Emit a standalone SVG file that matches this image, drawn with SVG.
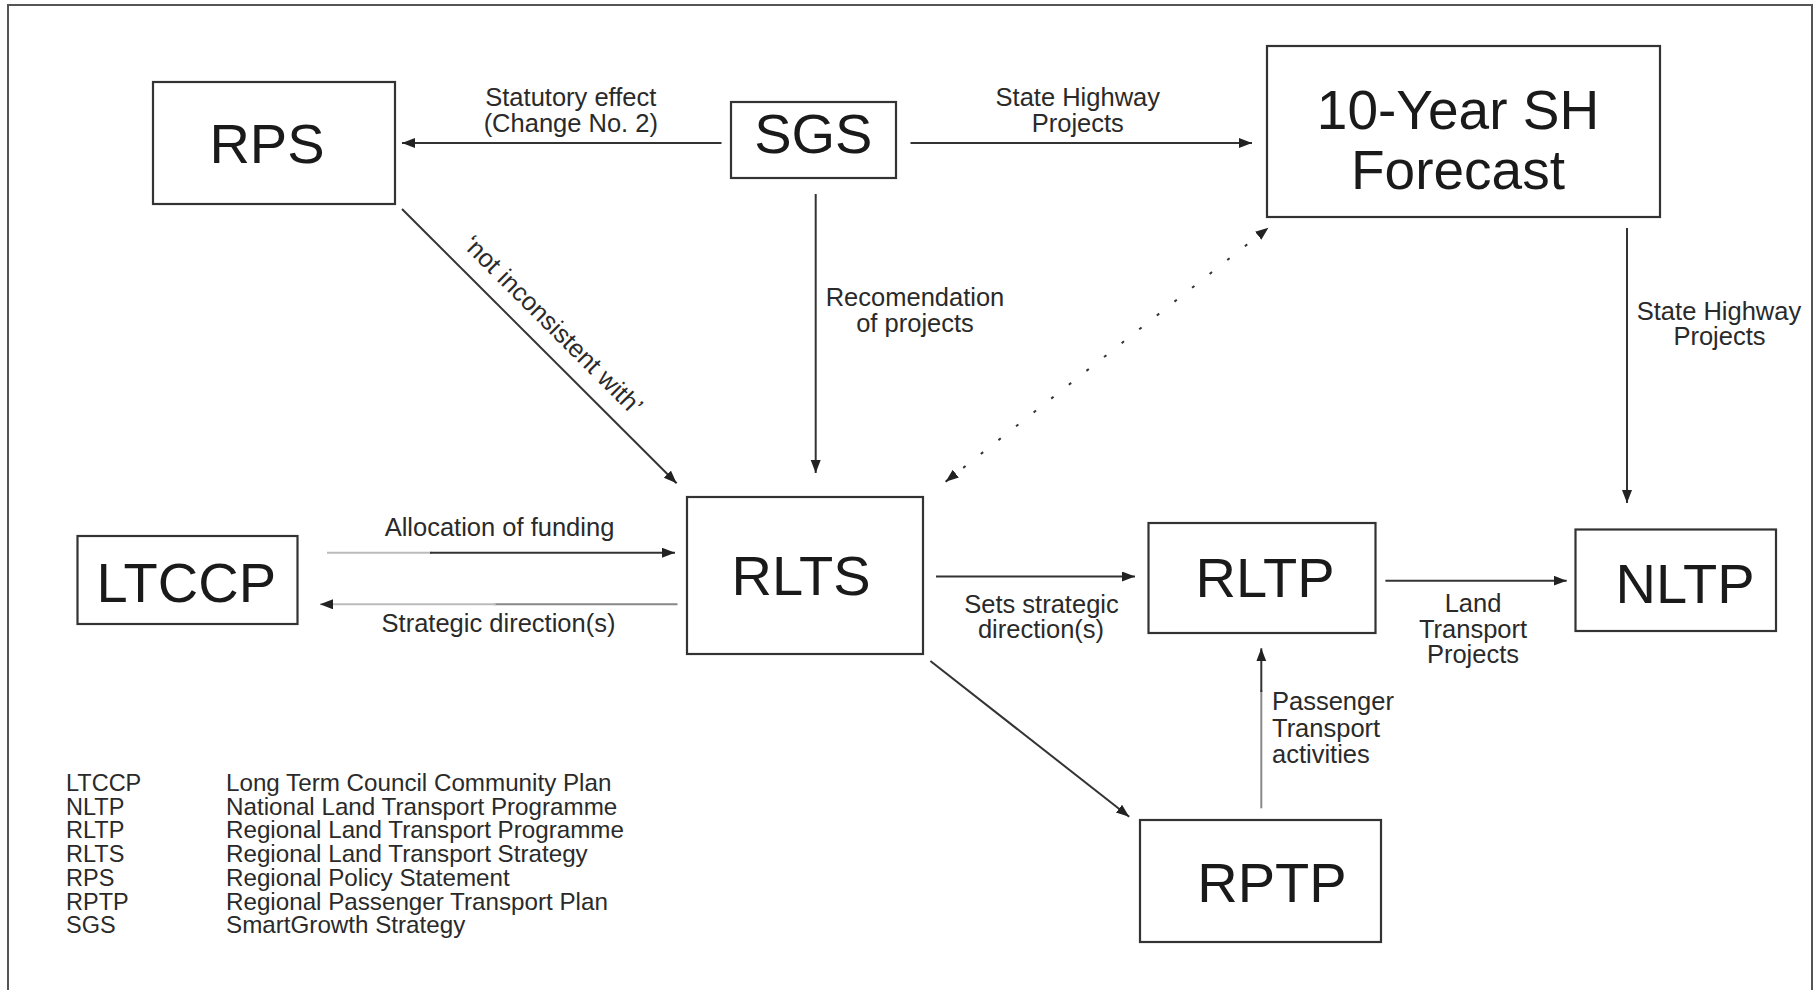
<svg xmlns="http://www.w3.org/2000/svg" width="1817" height="990" viewBox="0 0 1817 990">
<style>
.box{fill:#fff;stroke:#333;stroke-width:2.2}
.big{font-family:"Liberation Sans",Arial,sans-serif;font-size:56px;fill:#1a1a1a;text-anchor:middle}
.lbl{font-family:"Liberation Sans",Arial,sans-serif;font-size:25.5px;fill:#2a2a2a;text-anchor:middle}
.lbs{font-family:"Liberation Sans",Arial,sans-serif;font-size:25.5px;fill:#2a2a2a}
.leg{font-family:"Liberation Sans",Arial,sans-serif;font-size:23.5px;fill:#2a2a2a}
.ln{fill:none;stroke:#333;stroke-width:2}
.gr{fill:none;stroke:#888;stroke-width:2}
.lt{fill:none;stroke:#bbb;stroke-width:2}
</style>
<defs>
<marker id="ah" markerUnits="userSpaceOnUse" markerWidth="14" markerHeight="12" refX="13" refY="5" orient="auto-start-reverse">
<path d="M0,0 L13,5 L0,10 z" fill="#222"/>
</marker>
</defs>
<rect width="1817" height="990" fill="#fff"/>
<path d="M8,995 V5 H1812 V995" fill="none" stroke="#555" stroke-width="2"/>

<g id="connectors">
<line class="ln" x1="721.5" y1="143" x2="402" y2="143" marker-end="url(#ah)"/>
<line class="ln" x1="910.5" y1="143" x2="1252" y2="143" marker-end="url(#ah)"/>
<line class="ln" x1="815.7" y1="194" x2="815.7" y2="473" marker-end="url(#ah)"/>
<line class="ln" x1="402" y1="209" x2="676.6" y2="483.3" marker-end="url(#ah)"/>
<line class="ln" x1="945.6" y1="481.7" x2="1268.4" y2="227.7" stroke-dasharray="3 19.4" marker-start="url(#ah)" marker-end="url(#ah)"/>
<line class="ln" x1="1627" y1="228" x2="1627" y2="503" marker-end="url(#ah)"/>
<line class="lt" x1="327" y1="552.7" x2="432" y2="552.7"/>
<line class="ln" x1="430" y1="552.7" x2="675" y2="552.7" marker-end="url(#ah)"/>
<line class="gr" x1="677.5" y1="604.3" x2="494" y2="604.3"/>
<line class="lt" x1="496" y1="604.3" x2="320" y2="604.3" marker-end="url(#ah)"/>
<line class="ln" x1="936" y1="576.5" x2="1135" y2="576.5" marker-end="url(#ah)"/>
<line class="ln" x1="1385.4" y1="580.7" x2="1566.7" y2="580.7" marker-end="url(#ah)"/>
<line class="ln" x1="930.4" y1="661" x2="1129.2" y2="816.7" marker-end="url(#ah)"/>
<line class="gr" x1="1261.3" y1="808.3" x2="1261.3" y2="690"/>
<line class="ln" x1="1261.3" y1="692" x2="1261.3" y2="648.3" marker-end="url(#ah)"/>
</g>

<g id="labels">
<text class="lbl" x="570.8" y="106">Statutory effect</text>
<text class="lbl" x="570.8" y="131.7">(Change No. 2)</text>
<text class="lbl" x="1077.8" y="106">State Highway</text>
<text class="lbl" x="1077.8" y="131.5">Projects</text>
<text class="lbl" x="915" y="306">Recomendation</text>
<text class="lbl" x="915" y="331.7">of projects</text>
<text class="lbl" transform="translate(547,331) rotate(45)">‘not inconsistent with’</text>
<text class="lbl" x="1719" y="320">State Highway</text>
<text class="lbl" x="1719.5" y="344.5">Projects</text>
<text class="lbl" x="499.5" y="536">Allocation of funding</text>
<text class="lbl" x="498.5" y="631.7">Strategic direction(s)</text>
<text class="lbl" x="1041.5" y="613.3">Sets strategic</text>
<text class="lbl" x="1041" y="638.3">direction(s)</text>
<text class="lbl" x="1473" y="612">Land</text>
<text class="lbl" x="1473" y="637.5">Transport</text>
<text class="lbl" x="1473" y="663">Projects</text>
<text class="lbs" x="1272" y="710">Passenger</text>
<text class="lbs" x="1272" y="736.7">Transport</text>
<text class="lbs" x="1272" y="763.3">activities</text>
</g>

<g id="RPS"><rect class="box" x="153" y="82" width="242" height="122"/><text class="big" x="267" y="163">RPS</text></g>
<g id="SGS"><rect class="box" x="731" y="102" width="165" height="76"/><text class="big" x="813.3" y="153.3">SGS</text></g>
<g id="SHForecast"><rect class="box" x="1267" y="46" width="393" height="171"/><text class="big" x="1458" y="129.3" style="font-size:55px">10-Year SH</text><text class="big" x="1458" y="189.3" style="font-size:55px">Forecast</text></g>
<g id="RLTS"><rect class="box" x="687" y="497" width="236" height="157"/><text class="big" x="801" y="595">RLTS</text></g>
<g id="LTCCP"><rect class="box" x="77.5" y="536" width="220" height="88"/><text class="big" x="186.3" y="601.7">LTCCP</text></g>
<g id="RLTP"><rect class="box" x="1148.5" y="523" width="227" height="110"/><text class="big" x="1265" y="597.3">RLTP</text></g>
<g id="NLTP"><rect class="box" x="1575.5" y="529.5" width="200.5" height="101.5"/><text class="big" x="1685" y="603.3">NLTP</text></g>
<g id="RPTP"><rect class="box" x="1140" y="820" width="241" height="122"/><text class="big" x="1272" y="901.7">RPTP</text></g>

<g id="legend">
<text class="leg" x="66" y="791">LTCCP</text><text class="leg" x="226" y="791" style="font-size:24.2px">Long Term Council Community Plan</text>
<text class="leg" x="66" y="814.7">NLTP</text><text class="leg" x="226" y="814.7" style="font-size:24.2px">National Land Transport Programme</text>
<text class="leg" x="66" y="838.4">RLTP</text><text class="leg" x="226" y="838.4" style="font-size:24.2px">Regional Land Transport Programme</text>
<text class="leg" x="66" y="862">RLTS</text><text class="leg" x="226" y="862" style="font-size:24.2px">Regional Land Transport Strategy</text>
<text class="leg" x="66" y="885.8">RPS</text><text class="leg" x="226" y="885.8" style="font-size:24.2px">Regional Policy Statement</text>
<text class="leg" x="66" y="909.5">RPTP</text><text class="leg" x="226" y="909.5" style="font-size:24.2px">Regional Passenger Transport Plan</text>
<text class="leg" x="66" y="933">SGS</text><text class="leg" x="226" y="933" style="font-size:24.2px">SmartGrowth Strategy</text>
</g>
</svg>
